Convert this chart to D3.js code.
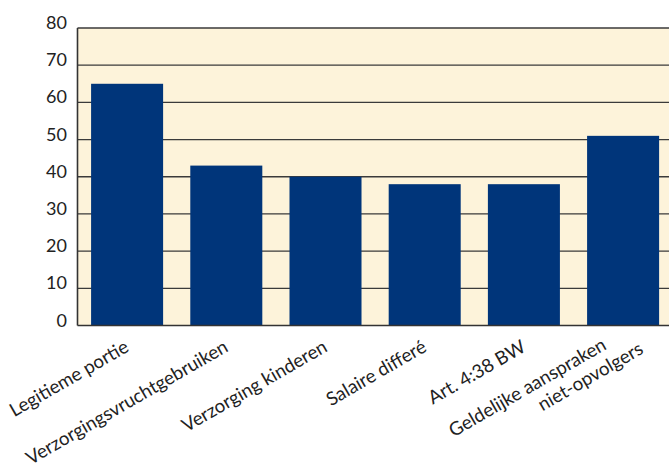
<!DOCTYPE html>
<html>
<head>
<meta charset="utf-8">
<script src="https://cdn.jsdelivr.net/npm/d3@7"></script>
<style>
  html, body { margin: 0; padding: 0; background: #fff; }
  svg { display: block; }
</style>
</head>
<body>
<svg id="chart" width="669" height="471"></svg>
<script>
const categories = [
  ["Legitieme portie"],
  ["Verzorgingsvruchtgebruiken"],
  ["Verzorging kinderen"],
  ["Salaire differé"],
  ["Art. 4:38 BW"],
  ["Geldelijke aanspraken", "niet-opvolgers"]
];
const values = [65, 43, 40, 38, 38, 51];
const yTicks = [0, 10, 20, 30, 40, 50, 60, 70, 80];

(function () {
const svg = d3.select("#chart");
const pLeft = 77.5, pRight = 672.7, pTop = 28, pBottom = 325.5;

const x = d3.scaleBand()
  .domain(d3.range(categories.length))
  .range([pLeft, pRight])
  .paddingInner(0.274)
  .paddingOuter(0.137);
const y = d3.scaleLinear().domain([0, 80]).range([pBottom, pTop]);

const font = "Lato, 'Open Sans', sans-serif";

svg.append("rect")
  .attr("x", pLeft).attr("y", pTop)
  .attr("width", pRight - pLeft).attr("height", pBottom - pTop)
  .attr("fill", "#FDF3DA");

svg.append("g").selectAll("line")
  .data(yTicks.filter(d => d > 0))
  .join("line")
  .attr("x1", pLeft).attr("x2", pRight)
  .attr("y1", d => y(d)).attr("y2", d => y(d))
  .attr("stroke", "#3a3a3a").attr("stroke-width", 1.3);

svg.append("g").selectAll("rect")
  .data(values)
  .join("rect")
  .attr("x", (d, i) => x(i))
  .attr("width", x.bandwidth())
  .attr("y", d => y(d))
  .attr("height", d => y(0) - y(d))
  .attr("fill", "#00357A");

svg.append("line")
  .attr("x1", pLeft).attr("x2", pLeft).attr("y1", pTop).attr("y2", pBottom)
  .attr("stroke", "#333").attr("stroke-width", 1.6);
svg.append("line")
  .attr("x1", pLeft).attr("x2", pRight).attr("y1", pBottom).attr("y2", pBottom)
  .attr("stroke", "#333").attr("stroke-width", 1.6);

svg.append("g").selectAll("text")
  .data(yTicks)
  .join("text")
  .attr("x", 67)
  .attr("y", d => y(d) + 1)
  .attr("text-anchor", "end")
  .attr("font-family", font)
  .attr("font-size", 18)
  .attr("fill", "#222")
  .text(d => d);

const xl = svg.append("g").selectAll("g")
  .data(categories)
  .join("g")
  .attr("transform", (d, i) => `translate(${x(i) + x.bandwidth() / 2 + 3},${pBottom + 25}) rotate(-30)`);
xl.each(function (lines) {
  const g = d3.select(this);
  const n = lines.length;
  lines.forEach((t, k) => {
    const off = k - (n - 1) / 2;
    g.append("text")
      .attr("x", off * 30)
      .attr("y", off * 22)
      .attr("text-anchor", "end")
      .attr("font-family", font)
      .attr("font-size", 18.7)
      .attr("fill", "#222")
      .text(t);
  });
});
})();
</script>
</body>
</html>
